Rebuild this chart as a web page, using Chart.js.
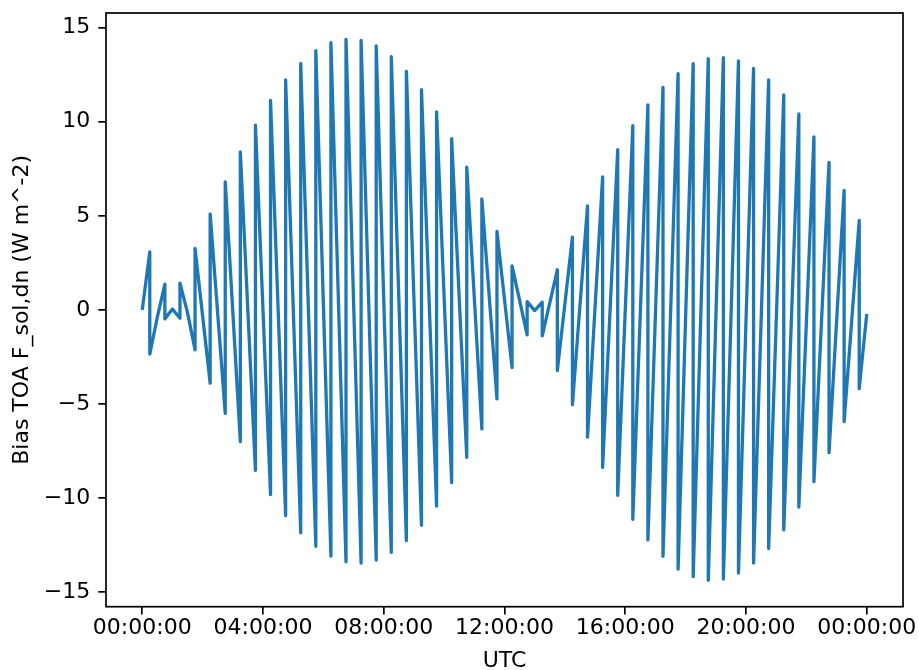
<!DOCTYPE html>
<html>
<head>
<meta charset="utf-8">
<script src="https://cdn.jsdelivr.net/npm/chart.js@4"></script>
<style>
  body { margin: 0; background: #fff; }
  canvas { display: block; }
</style>
</head>
<body>
<canvas id="grafico" width="919" height="670"></canvas>
<script>
// Time of each sample (hours UTC); a repeated hour is the jump at a radiation step
const utcHours = [
  0, 0.25, 0.25, 0.5, 0.75, 0.75, 1.0, 1.25, 1.25, 1.5,
  1.75, 1.75, 2.25, 2.25, 2.75, 2.75, 3.25, 3.25, 3.75, 3.75,
  4.25, 4.25, 4.75, 4.75, 5.25, 5.25, 5.75, 5.75, 6.25, 6.25,
  6.75, 6.75, 7.25, 7.25, 7.75, 7.75, 8.25, 8.25, 8.75, 8.75,
  9.25, 9.25, 9.75, 9.75, 10.25, 10.25, 10.75, 10.75, 11.25, 11.25,
  11.75, 11.75, 12.25, 12.25, 12.75, 12.75, 13.0,
  13.25, 13.25, 13.75, 13.75, 14.25, 14.25, 14.75, 14.75, 15.25, 15.25,
  15.75, 15.75, 16.25, 16.25, 16.75, 16.75, 17.25, 17.25, 17.75, 17.75,
  18.25, 18.25, 18.75, 18.75, 19.25, 19.25, 19.75, 19.75, 20.25, 20.25,
  20.75, 20.75, 21.25, 21.25, 21.75, 21.75, 22.25, 22.25, 22.75, 22.75,
  23.25, 23.25, 23.75, 23.75, 24
];

// Bias TOA F_sol,dn (W m^-2)
const biasValues = [
  0, 3.08, -2.35, -0.39, 1.37, -0.48, 0.04, -0.44, 1.42, -0.15,
  -2.13, 3.26, -3.9, 5.1, -5.5, 6.8, -7.0, 8.4, -8.53, 9.82,
  -9.82, 11.13, -10.94, 12.22, -11.85, 13.1, -12.57, 13.78, -13.09, 14.2,
  -13.39, 14.38, -13.46, 14.32, -13.3, 14.03, -12.89, 13.46, -12.27, 12.68,
  -11.45, 11.7, -10.43, 10.52, -9.18, 9.1, -7.84, 7.59, -6.33, 5.9,
  -4.73, 4.17, -3.07, 2.34, -1.33, 0.44, -0.04,
  0.41, -1.38, 2.13, -3.23, 3.87, -5.04, 5.53, -6.77, 7.07, -8.37,
  8.51, -9.86, 9.79, -11.13, 10.9, -12.23, 11.82, -13.1, 12.55, -13.78,
  13.09, -14.18, 13.35, -14.38, 13.4, -14.31, 13.24, -13.99, 12.84, -13.46,
  12.23, -12.68, 11.42, -11.7, 10.41, -10.48, 9.2, -9.13, 7.84, -7.59,
  6.35, -5.94, 4.75, -4.19, -0.21
];

const xTickHours = [0, 4, 8, 12, 16, 20, 24];
const xTickLabels = ['00:00:00', '04:00:00', '08:00:00', '12:00:00', '16:00:00', '20:00:00', '00:00:00'];
const yTickValues = [-15, -10, -5, 0, 5, 10, 15];

Chart.defaults.font.family = 'DejaVu Sans';
Chart.defaults.font.size = 22;
Chart.defaults.color = '#000';

// Full box around the plot, like matplotlib spines
const marco = {
  id: 'marco',
  afterDraw(chart) {
    const { ctx, chartArea: a } = chart;
    ctx.save();
    ctx.strokeStyle = '#000';
    ctx.lineWidth = 1.7;
    ctx.strokeRect(a.left, a.top, a.right - a.left, a.bottom - a.top);
    ctx.restore();
  }
};

const puntos = utcHours.map((h, i) => ({ x: h, y: biasValues[i] }));

new Chart(document.getElementById('grafico'), {
  type: 'line',
  data: {
    datasets: [{
      data: puntos,
      borderColor: '#1f77b4',
      borderWidth: 3.3,
      borderJoinStyle: 'round',
      pointRadius: 0,
      tension: 0,
      fill: false
    }]
  },
  options: {
    responsive: false,
    animation: false,
    devicePixelRatio: 1,
    layout: { padding: { top: 13, right: 16, left: 0, bottom: 0 } },
    plugins: { legend: { display: false }, tooltip: { enabled: false } },
    scales: {
      x: {
        type: 'linear',
        min: -1.2,
        max: 25.2,
        afterBuildTicks: s => { s.ticks = xTickHours.map(v => ({ value: v })); },
        afterFit: s => { s.height = 63.3; s.paddingLeft = 0; s.paddingRight = 0; },
        ticks: {
          autoSkip: false,
          maxRotation: 0,
          padding: 1,
          callback: (v, i) => xTickLabels[i]
        },
        grid: { drawOnChartArea: false, drawTicks: true, tickLength: 7.7, color: '#000', lineWidth: 1.7 },
        border: { display: false },
        title: { display: true, text: 'UTC', padding: { top: 0, bottom: -4 } }
      },
      y: {
        min: -15.78,
        max: 15.78,
        afterBuildTicks: s => { s.ticks = yTickValues.map(v => ({ value: v })); },
        afterFit: s => { s.width = 106; s.paddingTop = 0; s.paddingBottom = 0; },
        ticks: {
          padding: 8,
          callback: v => (v < 0 ? '\u2212' + Math.abs(v) : String(v))
        },
        grid: { drawOnChartArea: false, drawTicks: true, tickLength: 7.7, color: '#000', lineWidth: 1.7 },
        border: { display: false },
        title: { display: true, text: 'Bias TOA F_sol,dn (W m^-2)', padding: { top: 9, bottom: 0 } }
      }
    }
  },
  plugins: [marco]
});
</script>
</body>
</html>
